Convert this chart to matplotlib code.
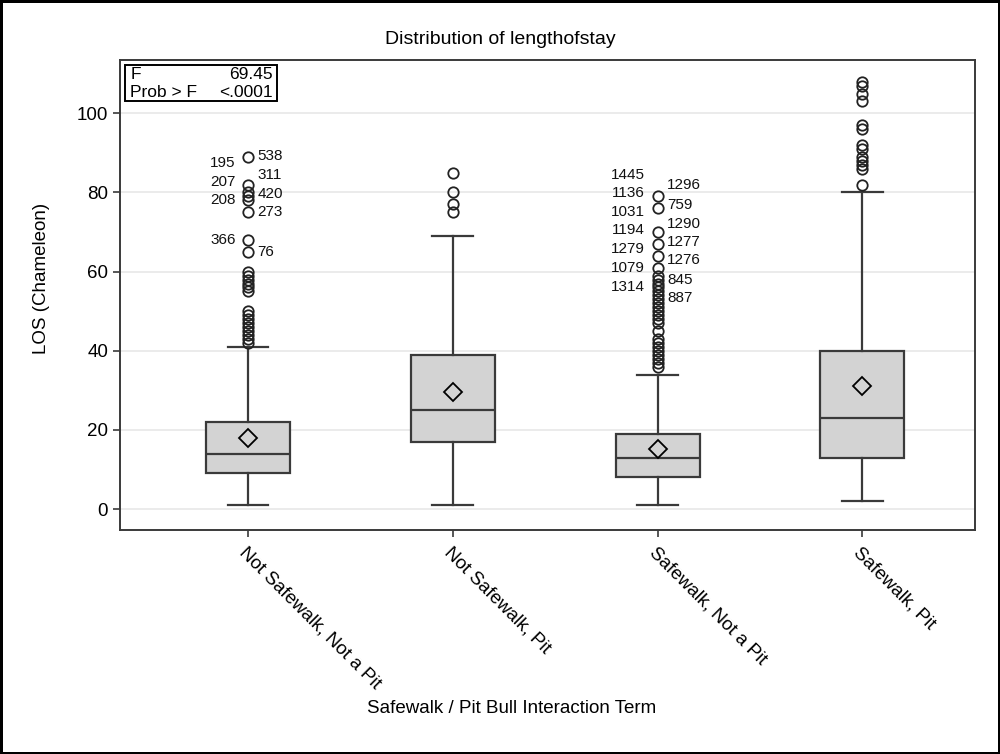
import matplotlib
matplotlib.use('Agg')
import matplotlib.pyplot as plt
from matplotlib.patches import Rectangle
import numpy as np

plt.rcParams['font.family'] = ['Liberation Sans', 'DejaVu Sans']

# Groups and their box statistics
categories = ["Not Safewalk, Not a Pit", "Not Safewalk, Pit",
              "Safewalk, Not a Pit", "Safewalk, Pit"]
q1s = [9, 17, 8, 13]
medians = [14, 25, 13, 23]
q3s = [22, 39, 19, 40]
whisker_low = [1, 1, 1, 2]
whisker_high = [41, 69, 34, 80]
means = [18, 29.5, 15.2, 31]

# outliers per group
outliers_1 = [42, 43, 44, 45, 46, 47, 48, 49, 50, 55, 56, 57, 58, 59, 60,
              65, 68, 75, 78, 79, 80, 82, 89]
outliers_2 = [75, 77, 80, 85]
outliers_3 = [36, 37, 38, 39, 40, 41, 42, 43, 45, 47, 48, 49, 50, 51, 52, 53,
              54, 55, 56, 57, 58, 59, 61, 64, 67, 70, 76, 79]
outliers_4 = [82, 86, 87, 88, 89, 91, 92, 96, 97, 103, 105, 107, 108]

# outlier id labels: (text, y position) left and right of the group
g1_left = [("195", 87.5), ("207", 82.6), ("208", 78.0), ("366", 68.0)]
g1_right = [("538", 89.2), ("311", 84.3), ("420", 79.7), ("273", 75.0), ("76", 65.0)]
g3_left = [("1445", 84.3), ("1136", 79.8), ("1031", 75.0), ("1194", 70.4),
           ("1279", 65.6), ("1079", 60.8), ("1314", 56.0)]
g3_right = [("1296", 81.8), ("759", 76.8), ("1290", 72.0), ("1277", 67.5),
            ("1276", 62.9), ("845", 57.8), ("887", 53.3)]

f_value = "69.45"
p_value = "<.0001"

fig = plt.figure(figsize=(10, 7.54), dpi=100)
fig.patch.set_edgecolor('black')
fig.patch.set_linewidth(2.5)
ax = fig.add_axes([0.12, 0.297, 0.855, 0.623])

outliers = [outliers_1, outliers_2, outliers_3, outliers_4]
stats = []
for i in range(len(categories)):
    stats.append({
        'q1': q1s[i], 'med': medians[i], 'q3': q3s[i],
        'whislo': whisker_low[i], 'whishi': whisker_high[i],
        'mean': means[i], 'fliers': outliers[i],
    })

edge = '#3a3a3a'
positions = np.arange(len(categories))
ax.bxp(stats, positions=positions, widths=0.41, patch_artist=True,
       showmeans=True, showcaps=True, manage_ticks=False,
       boxprops=dict(facecolor='#d3d3d3', edgecolor=edge, linewidth=1.6),
       medianprops=dict(color=edge, linewidth=1.6),
       whiskerprops=dict(color=edge, linewidth=1.6),
       capprops=dict(color=edge, linewidth=1.6),
       capwidths=0.2,
       meanprops=dict(marker='D', markerfacecolor='none', markeredgecolor='black',
                      markersize=9, markeredgewidth=1.3),
       flierprops=dict(marker='o', markerfacecolor='none', markeredgecolor='#222222',
                       markersize=7.5, markeredgewidth=1.3))

# outlier id labels
lab_kw = dict(fontsize=11, color='#111111', va='center')
for txt, y in g1_left:
    ax.annotate(txt, (0, y), xytext=(-9, 0), textcoords='offset points', ha='right', **lab_kw)
for txt, y in g1_right:
    ax.annotate(txt, (0, y), xytext=(7, 0), textcoords='offset points', ha='left', **lab_kw)
for txt, y in g3_left:
    ax.annotate(txt, (2, y), xytext=(-9, 0), textcoords='offset points', ha='right', **lab_kw)
for txt, y in g3_right:
    ax.annotate(txt, (2, y), xytext=(7, 0), textcoords='offset points', ha='left', **lab_kw)

ax.set_xlim(-0.625, 3.55)
ax.set_ylim(-5.3, 113.4)
ax.set_yticks([0, 20, 40, 60, 80, 100])
ax.set_xticks(positions)
ax.set_xticklabels(categories, rotation=-45, ha='left', va='top',
                   rotation_mode='anchor', fontsize=13.5)
ax.tick_params(axis='y', labelsize=13.5, length=5, width=1.2, color=edge)
ax.tick_params(axis='x', length=5, width=1.2, color=edge, pad=5)
ax.grid(axis='y', color='#e8e8e8', linewidth=1.2)
ax.set_axisbelow(True)
for s in ax.spines.values():
    s.set_color(edge)
    s.set_linewidth(1.4)

ax.set_ylabel("LOS (Chameleon)", fontsize=13.5)
ax.yaxis.set_label_coords(-0.082, 0.536)
ax.set_xlabel("Safewalk / Pit Bull Interaction Term", fontsize=13.5)
ax.xaxis.set_label_coords(0.458, -0.362)

fig.text(0.5, 0.947, "Distribution of lengthofstay", ha='center', va='center', fontsize=14)

# statistics inset box
ax.add_patch(Rectangle((0.006, 0.913), 0.178, 0.076, transform=ax.transAxes,
                       facecolor='white', edgecolor='black', linewidth=1.4, zorder=5))
ax.text(0.012, 0.970, "F", transform=ax.transAxes, fontsize=12.5, va='center', ha='left', zorder=6)
ax.text(0.179, 0.970, f_value, transform=ax.transAxes, fontsize=12.5, va='center', ha='right', zorder=6)
ax.text(0.012, 0.932, "Prob > F", transform=ax.transAxes, fontsize=12.5, va='center', ha='left', zorder=6)
ax.text(0.179, 0.932, p_value, transform=ax.transAxes, fontsize=12.5, va='center', ha='right', zorder=6)

fig.savefig("out.png", dpi=100)
